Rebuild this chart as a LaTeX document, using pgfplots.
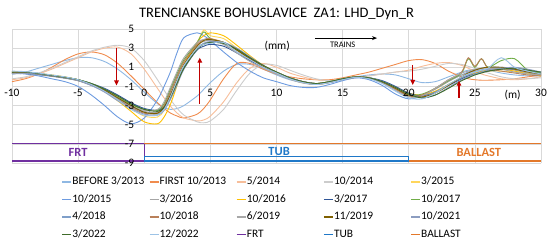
\documentclass[border=0pt]{standalone}
\usepackage{pgfplots}
\pgfplotsset{compat=1.18}
\usepackage{pgfplotstable}
\usepackage{fontspec}
\setmainfont{Carlito}
\usetikzlibrary{arrows.meta}

% series colours (Excel-like)
\definecolor{c1}{HTML}{8FB8E3}
\definecolor{c2}{HTML}{F08C4E}
\definecolor{c3}{HTML}{F7BE9A}
\definecolor{c4}{HTML}{CCCCCC}
\definecolor{c5}{HTML}{FFD65C}
\definecolor{c6}{HTML}{6D9BE0}
\definecolor{c7}{HTML}{A5A5A5}
\definecolor{c8}{HTML}{FFC000}
\definecolor{c9}{HTML}{2F5597}
\definecolor{c10}{HTML}{70AD47}
\definecolor{c11}{HTML}{7F9FC9}
\definecolor{c12}{HTML}{B9805A}
\definecolor{c13}{HTML}{A8A8A8}
\definecolor{c14}{HTML}{7F6000}
\definecolor{c15}{HTML}{8C9DC0}
\definecolor{c16}{HTML}{3F6B2A}
\definecolor{c17}{HTML}{9DC3E6}
\definecolor{frt}{HTML}{7030A0}
\definecolor{tub}{HTML}{1F78C8}
\definecolor{ballast}{HTML}{E3782A}
\definecolor{gridgray}{HTML}{D9D9D9}
\definecolor{arrred}{HTML}{C00000}

\newcommand{\lbl}{\fontsize{11.4bp}{13bp}\selectfont}
\newcommand{\leg}[1]{\makebox[76bp][l]{#1}}

% x, then one column per survey (mm)
\pgfplotstableread{
x s1 s2 s3 s4 s5 s6 s7 s8 s9 s10 s11 s12 s13 s14 s15 s16 s17
-10 0.3 -0.5 -0.3 -0.2 0.5 0.4 0.4 0.5 0.35 0.45 0.3 0.5 0.35 0.45 0.4 0.5 0.6
-9 0.5 -0.2 -0.1 0.0 0.5 0.3 0.4 0.5 0.35 0.45 0.35 0.5 0.4 0.45 0.4 0.5 0.55
-8 0.9 0.3 0.3 0.4 0.35 0.1 0.25 0.35 0.25 0.3 0.2 0.3 0.3 0.3 0.3 0.35 0.4
-7 1.3 1.0 0.8 0.9 0.15 -0.2 0.1 0.2 0.1 0.15 0.05 0.1 0.15 0.1 0.1 0.15 0.2
-6 1.7 1.8 1.4 1.5 -0.05 -0.5 -0.1 0.0 -0.05 -0.05 -0.15 -0.1 -0.05 -0.1 -0.1 -0.05 0.0
-5 2.0 2.4 2.0 2.1 -0.3 -1.0 -0.35 -0.3 -0.3 -0.3 -0.4 -0.4 -0.3 -0.35 -0.4 -0.3 -0.3
-4 2.0 2.6 2.6 2.7 -0.75 -1.9 -0.8 -0.8 -0.7 -0.7 -0.9 -0.85 -0.75 -0.8 -0.9 -0.7 -0.8
-3 1.6 2.3 3.0 3.1 -1.4 -3.0 -1.4 -1.5 -1.2 -1.3 -1.5 -1.5 -1.35 -1.4 -1.6 -1.3 -1.5
-2 0.8 1.4 3.1 3.3 -2.3 -4.2 -2.2 -2.5 -1.9 -2.1 -2.3 -2.4 -2.2 -2.2 -2.5 -2.0 -2.4
-1 -0.3 0.1 2.4 3.0 -3.3 -4.9 -3.0 -3.6 -2.7 -2.9 -3.1 -3.2 -3.0 -3.0 -3.3 -2.8 -3.4
0 -1.6 -1.3 0.8 1.7 -4.1 -4.3 -3.6 -4.7 -3.3 -3.4 -3.7 -3.8 -3.5 -3.7 -3.9 -3.4 -4.0
1 -2.8 -2.7 -1.2 -0.3 -4.2 -2.4 -3.7 -4.9 -3.5 -3.5 -3.9 -3.8 -3.4 -3.8 -4.0 -3.6 -4.0
1.5 -3.2 -3.3 -2.2 -1.4 -3.5 -1.0 -3.0 -4.2 -3.1 -2.8 -3.4 -3.0 -2.6 -3.2 -3.5 -3.2 -3.4
2 -3.4 -3.8 -3.1 -2.4 -2.0 0.6 -1.4 -2.8 -1.9 -1.2 -2.0 -1.5 -1.0 -1.8 -2.3 -2.1 -2.0
2.5 -3.3 -4.1 -3.8 -3.3 -0.3 2.6 0.2 -0.8 -0.4 0.4 -0.4 0.1 0.6 -0.2 -0.8 -0.6 -0.3
3 -3.0 -4.3 -4.3 -4.0 1.4 4.1 1.6 1.2 1.0 1.8 1.1 1.6 2.0 1.3 0.8 0.9 1.2
4 -2.0 -3.9 -4.6 -4.7 3.6 4.6 3.3 3.6 2.8 3.6 3.0 3.4 3.6 3.2 2.9 2.9 3.0
4.5 -1.3 -3.3 -4.5 -4.8 4.9 4.3 3.7 4.3 3.2 4.7 3.5 3.9 3.9 3.8 3.5 3.4 3.4
5 -0.6 -2.4 -4.1 -4.6 4.3 3.8 3.8 4.6 3.4 4.0 3.6 4.0 3.9 3.9 3.7 3.6 3.5
6 0.6 -0.2 -2.6 -3.4 4.0 2.6 3.4 4.3 3.2 3.6 3.5 3.6 3.4 3.6 3.6 3.5 3.6
7 1.3 1.4 -0.6 -1.4 3.0 1.5 2.6 3.3 2.5 2.8 2.8 2.8 2.5 2.8 3.0 2.9 2.6
8 1.3 1.4 0.9 0.4 2.0 0.6 1.8 2.2 1.7 1.9 2.0 1.9 1.6 1.9 2.1 2.0 1.8
9 0.8 0.8 1.4 1.3 1.1 -0.1 1.0 1.2 1.0 1.1 1.1 1.1 0.9 1.1 1.2 1.2 1.0
10 0.2 0.3 1.0 1.2 0.4 -0.5 0.4 0.5 0.4 0.5 0.5 0.4 0.3 0.5 0.5 0.5 0.4
11 -0.3 0.0 0.4 0.7 -0.2 -0.9 -0.2 -0.1 -0.1 -0.1 -0.1 -0.2 -0.25 -0.1 -0.1 -0.1 -0.2
12 -0.6 -0.2 0.0 0.2 -0.6 -1.1 -0.6 -0.5 -0.5 -0.55 -0.5 -0.6 -0.65 -0.5 -0.5 -0.5 -0.6
13 -0.7 -0.3 -0.3 -0.2 -0.8 -1.1 -0.75 -0.7 -0.7 -0.7 -0.7 -0.8 -0.8 -0.7 -0.7 -0.7 -0.8
14 -0.6 -0.3 -0.4 -0.4 -0.6 -0.8 -0.55 -0.5 -0.55 -0.5 -0.5 -0.6 -0.6 -0.55 -0.6 -0.5 -0.6
15 -0.3 -0.1 -0.3 -0.3 -0.25 -0.4 -0.2 -0.2 -0.25 -0.2 -0.2 -0.25 -0.25 -0.25 -0.3 -0.2 -0.3
16 0.0 0.2 -0.1 -0.1 -0.05 -0.1 0.0 0.0 -0.05 0.0 0.0 0.0 -0.05 -0.05 -0.05 0.0 -0.05
17 0.2 0.5 0.1 0.1 -0.15 -0.3 -0.1 -0.1 -0.1 -0.1 -0.15 -0.1 -0.15 -0.15 -0.1 -0.1 -0.2
18 0.3 0.9 0.3 0.3 -0.6 -0.9 -0.5 -0.5 -0.4 -0.5 -0.6 -0.6 -0.6 -0.55 -0.5 -0.5 -0.7
19 0.2 1.3 0.5 0.5 -1.3 -1.8 -1.2 -1.1 -1.0 -1.2 -1.3 -1.3 -1.4 -1.2 -1.1 -1.1 -1.5
20 -0.2 1.7 0.7 0.6 -2.0 -2.3 -1.9 -1.7 -1.7 -1.9 -2.0 -2.0 -2.1 -1.9 -1.8 -1.8 -2.2
21 -0.6 1.8 1.1 0.8 -2.1 -2.0 -1.9 -1.9 -2.0 -1.8 -2.1 -1.9 -2.0 -2.1 -2.2 -2.2 -2.3
22 -0.5 1.4 1.4 1.1 -1.6 -1.2 -1.3 -1.5 -1.6 -1.2 -1.6 -1.2 -1.2 -1.7 -1.9 -1.9 -1.7
23 0.0 0.6 1.5 1.4 -0.8 -0.4 -0.5 -0.8 -0.9 -0.4 -0.8 -0.3 -0.3 -0.9 -1.1 -1.2 -0.8
24 0.5 0.0 1.2 1.3 -0.1 0.2 0.2 -0.1 -0.2 0.4 -0.1 0.5 0.4 0.0 -0.3 -0.4 0.0
24.5 0.7 -0.2 0.9 1.1 0.2 0.5 0.4 0.2 0.1 1.9 0.2 2.0 0.6 0.4 0.0 -0.1 0.3
25 0.8 -0.3 0.6 0.9 0.4 0.7 0.6 0.4 0.3 1.0 0.5 1.1 0.8 0.7 0.3 0.2 0.5
25.5 0.8 -0.35 0.3 0.6 0.5 0.9 0.7 0.6 0.5 1.9 0.7 1.9 0.9 0.9 0.5 0.4 0.7
26 0.7 -0.35 0.1 0.4 0.6 1.0 0.8 0.7 0.6 1.0 0.8 0.9 0.9 1.0 0.7 0.6 0.9
27 0.4 -0.3 -0.2 0.0 0.6 1.0 0.85 0.8 0.8 1.7 0.9 0.6 0.8 1.0 0.9 0.8 2.0
28 0.2 -0.2 -0.3 -0.2 0.5 0.9 0.7 0.6 0.8 1.9 0.8 0.4 0.5 0.8 1.0 0.9 1.0
29 0.1 0.0 -0.2 -0.2 0.4 0.7 0.4 0.3 0.6 0.7 0.5 0.2 0.3 0.5 0.8 0.7 0.6
30 0.1 0.2 0.0 -0.1 0.3 0.5 0.2 0.1 0.4 0.4 0.3 0.1 0.2 0.3 0.5 0.5 0.3
}\lhddata

\begin{document}
\begin{tikzpicture}
\useasboundingbox (-12bp,-79bp) rectangle (538bp,163bp);
\begin{axis}[
    at={(0bp,0bp)}, anchor=south west,
    scale only axis,
    width=529bp, height=134bp,
    xmin=-10, xmax=30, ymin=-9, ymax=5,
    xtick={-10,-5,...,30}, ytick={-9,-7,...,5},
    xticklabels={}, yticklabels={},
    grid=major,
    major grid style={color=gridgray, line width=0.6bp},
    axis line style={draw=none},
    tick style={draw=none},
    clip=false,
    legend columns=5,
    legend cell align=left,
    legend style={at={(axis description cs:0.0936,-0.095)}, anchor=north west,
        draw=none, fill=none, inner sep=0pt, font=\lbl,
        nodes={inner sep=0.5bp, text height=8.5bp, text depth=2.5bp},
        /tikz/every odd column/.append style={column sep=0pt},
        /tikz/every even column/.append style={column sep=0pt},
        row sep=5.5bp},
    legend image code/.code={\draw[#1, line width=1.2bp] (0bp,0bp) -- (9bp,0bp);},
    every axis plot/.append style={mark=none},
]
\addplot[c1, line width=0.9bp, smooth] table[x=x, y=s1] {\lhddata};
\addlegendentry{\leg{BEFORE 3/2013}}
\addplot[c2, line width=0.9bp, smooth] table[x=x, y=s2] {\lhddata};
\addlegendentry{\leg{FIRST 10/2013}}
\addplot[c3, line width=0.9bp, smooth] table[x=x, y=s3] {\lhddata};
\addlegendentry{\leg{5/2014}}
\addplot[c4, line width=0.9bp, smooth] table[x=x, y=s4] {\lhddata};
\addlegendentry{\leg{10/2014}}
\addplot[c5, line width=0.9bp, smooth] table[x=x, y=s5] {\lhddata};
\addlegendentry{\leg{3/2015}}
\addplot[c6, line width=0.9bp, smooth] table[x=x, y=s6] {\lhddata};
\addlegendentry{\leg{10/2015}}
\addplot[c7, line width=0.9bp, smooth] table[x=x, y=s7] {\lhddata};
\addlegendentry{\leg{3/2016}}
\addplot[c8, line width=0.9bp, smooth] table[x=x, y=s8] {\lhddata};
\addlegendentry{\leg{10/2016}}
\addplot[c9, line width=0.9bp, smooth] table[x=x, y=s9] {\lhddata};
\addlegendentry{\leg{3/2017}}
\addplot[c10, line width=0.9bp, smooth] table[x=x, y=s10] {\lhddata};
\addlegendentry{\leg{10/2017}}
\addplot[c11, line width=0.9bp, smooth] table[x=x, y=s11] {\lhddata};
\addlegendentry{\leg{4/2018}}
\addplot[c12, line width=0.9bp, smooth] table[x=x, y=s12] {\lhddata};
\addlegendentry{\leg{10/2018}}
\addplot[c13, line width=0.9bp, smooth] table[x=x, y=s13] {\lhddata};
\addlegendentry{\leg{6/2019}}
\addplot[c14, line width=0.9bp, smooth] table[x=x, y=s14] {\lhddata};
\addlegendentry{\leg{11/2019}}
\addplot[c15, line width=0.9bp, smooth] table[x=x, y=s15] {\lhddata};
\addlegendentry{\leg{10/2021}}
\addplot[c16, line width=0.9bp, smooth] table[x=x, y=s16] {\lhddata};
\addlegendentry{\leg{3/2022}}
\addplot[c17, line width=0.9bp, smooth] table[x=x, y=s17] {\lhddata};
\addlegendentry{\leg{12/2022}}

% track structure
\addplot[frt, line width=1.2bp] coordinates {(-10,-7) (0,-7) (0,-8.8) (-10,-8.8)};
\addlegendentry{\leg{FRT}}
\addplot[tub, line width=1.2bp] coordinates {(0,-8.8) (0,-8.35) (20,-8.35) (20,-8.8) (0,-8.8)};
\addlegendentry{\leg{TUB}}
\addplot[ballast, line width=1.2bp] coordinates {(0,-7) (30,-7)};
\addlegendentry{\leg{BALLAST}}
\addplot[ballast, line width=1.2bp, forget plot] coordinates {(20,-8.8) (30,-8.8)};

% tick labels where Excel puts them
\pgfplotsinvokeforeach{-10,-5,0,5,10,15,20,25,30}{
  \node[font=\lbl, inner sep=0pt] at (axis cs:#1,-1.7) {#1};
}
\pgfplotsinvokeforeach{-9,-7,-5,-3,-1,1,3,5}{
  \node[font=\lbl, inner sep=0pt, anchor=east] at (axis cs:-0.75,#1) {#1};
}
\node[font=\lbl] at (axis cs:27.85,-1.9) {(m)};
\node[font=\lbl] at (axis cs:10.05,3.2) {(mm)};
\node[font=\fontsize{8.5bp}{10bp}\selectfont] at (axis cs:15,3.35) {TRAINS};
\draw[-{Stealth[length=5bp,width=4bp]}, line width=0.8bp] (axis cs:12.9,4.05) -- (axis cs:17.6,4.05);

\node[font=\fontsize{12.5bp}{14bp}\selectfont\bfseries, text=frt] at (axis cs:-5,-7.85) {FRT};
\node[font=\fontsize{12.5bp}{14bp}\selectfont\bfseries, text=tub] at (axis cs:10.2,-7.8) {TUB};
\node[font=\fontsize{12.5bp}{14bp}\selectfont\bfseries, text=ballast] at (axis cs:25.3,-7.85) {BALLAST};

% red arrows
\begin{scope}[arrred, line width=1.3bp]
\draw[-{Triangle[length=5bp,width=4.5bp]}] (axis cs:-2.1,3.0) -- (axis cs:-2.1,-0.9);
\draw[-{Triangle[length=5bp,width=4.5bp]}] (axis cs:4.2,-2.8) -- (axis cs:4.2,2.0);
\draw[-{Triangle[length=5bp,width=4.5bp]}] (axis cs:20.3,1.25) -- (axis cs:20.3,-0.85);
\draw[-{Triangle[length=5bp,width=4.5bp]}] (axis cs:23.8,-2.2) -- (axis cs:23.8,-0.4);
\end{scope}

\node[font=\fontsize{14.5bp}{17bp}\selectfont] at (axis description cs:0.5,1.112)
  {TRENCIANSKE BOHUSLAVICE\ \ ZA1: LHD\_Dyn\_R};
\end{axis}
\end{tikzpicture}
\end{document}
